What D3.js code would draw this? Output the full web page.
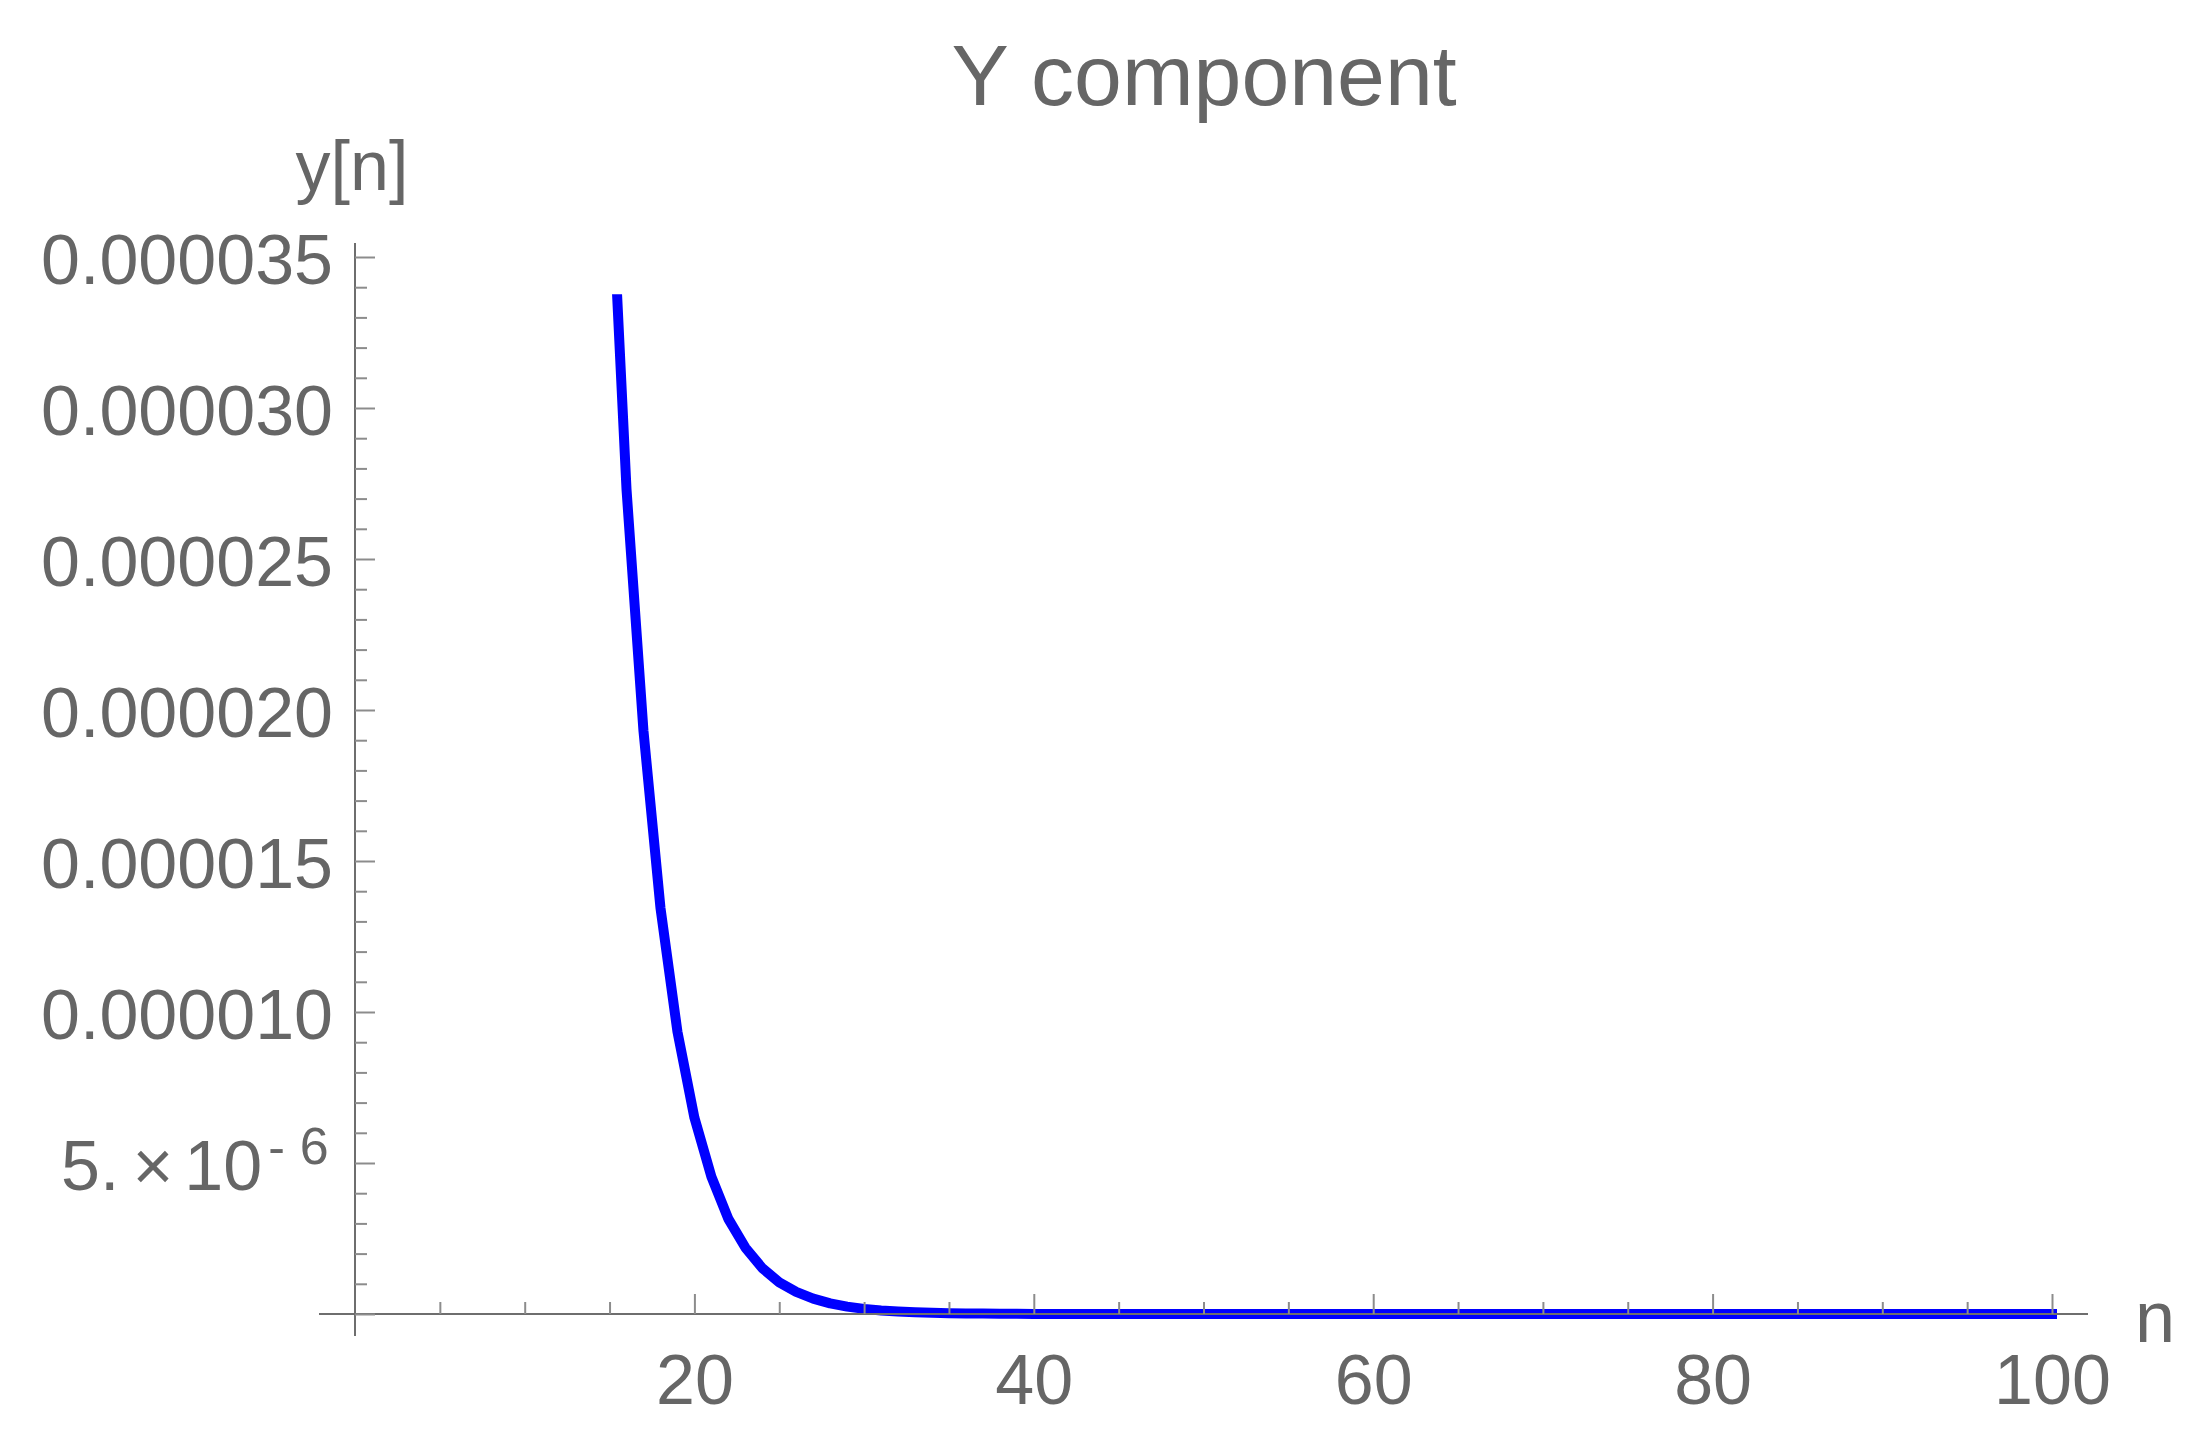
<!DOCTYPE html>
<html>
<head>
<meta charset="utf-8">
<script src="https://cdn.jsdelivr.net/npm/d3@7"></script>
<style>
  html, body { margin: 0; padding: 0; background: #ffffff; }
  svg { display: block; }
  text { font-family: "Liberation Sans", Arial, sans-serif; fill: #666666; }
</style>
</head>
<body>
<script>
// ---- data ----
const nValues = [15,16,17,18,19,20,21,22,23,24,25,26,27,28,29,30,31,32,33,34,35,36,37,38,39,40,
  41,42,43,44,45,46,47,48,49,50,51,52,53,54,55,56,57,58,59,60,61,62,63,64,65,66,67,68,69,70,
  71,72,73,74,75,76,77,78,79,80,81,82,83,84,85,86,87,88,89,90,91,92,93,94,95,96,97,98,99,100];
const yValues = [3.89e-5,2.73e-5,1.93e-5,1.345e-5,9.35e-6,6.5e-6,4.55e-6,3.15e-6,2.2e-6,1.52e-6,
  1.05e-6,7.3e-7,5.1e-7,3.5e-7,2.45e-7,1.7e-7,1.18e-7,8.2e-8,5.7e-8,3.9e-8,2.7e-8,1.9e-8,1.3e-8,9e-9,6e-9,4e-9,
  3e-9,2e-9,1.4e-9,1e-9,7e-10,5e-10,3e-10,2e-10,1e-10,0,0,0,0,0,0,0,0,0,0,0,
  0,0,0,0,0,0,0,0,0,0,0,0,0,0,0,0,0,0,0,0,0,0,0,0,0,0,0,0,0,0,0,0,0,0,0,0,0,0,0,0];
const xMajorTicks = [20,40,60,80,100];
const xMinorTicks = [5,10,15,25,30,35,45,50,55,65,70,75,85,90,95];
const yMajorTicks = [0,5e-6,1e-5,1.5e-5,2e-5,2.5e-5,3e-5,3.5e-5];
const yMinorTicks = [1e-6,2e-6,3e-6,4e-6,6e-6,7e-6,8e-6,9e-6,1.1e-5,1.2e-5,1.3e-5,1.4e-5,
  1.6e-5,1.7e-5,1.8e-5,1.9e-5,2.1e-5,2.2e-5,2.3e-5,2.4e-5,2.6e-5,2.7e-5,2.8e-5,2.9e-5,
  3.1e-5,3.2e-5,3.3e-5,3.4e-5];
const plotRangeTop = 3.377e-5;
const titleText = "Y component";
const xLabel = "n";
const yLabel = "y[n]";

// ---- layout ----
const W = 2205, H = 1446;
const svg = d3.select("body").append("svg").attr("width", W).attr("height", H);
svg.append("rect").attr("width", W).attr("height", H).attr("fill", "#ffffff");

const x = d3.scaleLinear().domain([0, 100]).range([355, 2052]);
const y = d3.scaleLinear().domain([0, 3.5e-5]).range([1314, 257]);

const axisColor = "#6e6e6e";
const tickColor = "#8c8c8c";

// clip for plot range
svg.append("clipPath").attr("id", "clip").append("rect")
  .attr("x", 0).attr("y", y(plotRangeTop)).attr("width", W).attr("height", H - y(plotRangeTop));

// curve (drawn beneath the axes)
const pts = nValues.map((n, i) => [n, yValues[i]]);
svg.append("path")
  .datum(pts)
  .attr("clip-path", "url(#clip)")
  .attr("fill", "none")
  .attr("stroke", "#0000ff")
  .attr("stroke-width", 10)
  .attr("stroke-linejoin", "round")
  .attr("stroke-linecap", "square")
  .attr("d", d3.line().x(d => x(d[0])).y(d => y(d[1])));

// axis lines
svg.append("line").attr("x1", 319).attr("x2", 2088).attr("y1", y(0)).attr("y2", y(0))
  .attr("stroke", axisColor).attr("stroke-width", 2);
svg.append("line").attr("x1", x(0)).attr("x2", x(0)).attr("y1", 243).attr("y2", 1336)
  .attr("stroke", axisColor).attr("stroke-width", 2);

// y axis ticks
const fmtY = d => d === 0 ? "" : d.toFixed(6);
const gyMinor = svg.append("g").attr("transform", `translate(${x(0)},0)`)
  .call(d3.axisLeft(y).tickValues(yMinorTicks).tickSize(-12).tickFormat(""));
const gy = svg.append("g").attr("transform", `translate(${x(0)},0)`)
  .call(d3.axisLeft(y).tickValues(yMajorTicks).tickSize(-20).tickPadding(22).tickFormat(fmtY));
[gy, gyMinor].forEach(g => {
  g.select(".domain").remove();
  g.selectAll(".tick line").attr("stroke", tickColor).attr("stroke-width", 2);
});
gy.selectAll(".tick text").attr("font-size", 70).attr("dy", 26)
  .style("font-family", '"Liberation Sans", Arial, sans-serif').attr("fill", "#666666");

// special label 5.×10^-6
gy.selectAll(".tick").filter(d => d === 5e-6).select("text").each(function() {
  const t = d3.select(this);
  t.text("").attr("text-anchor", "start").attr("x", -294);
  t.append("tspan").text("5.");
  t.append("tspan").attr("dx", 13).text("\u00d7");
  t.append("tspan").attr("dx", 11).text("10");
  t.append("tspan").attr("dx", 6).attr("dy", -26).attr("font-size", 50).text("-");
  t.append("tspan").attr("dx", 15).attr("font-size", 52).text("6");
});

// x axis ticks
const gxMinor = svg.append("g").attr("transform", `translate(0,${y(0)})`)
  .call(d3.axisBottom(x).tickValues(xMinorTicks).tickSize(-12).tickFormat(""));
const gx = svg.append("g").attr("transform", `translate(0,${y(0)})`)
  .call(d3.axisBottom(x).tickValues(xMajorTicks).tickSize(-20).tickFormat(d3.format("d")));
[gx, gxMinor].forEach(g => {
  g.select(".domain").remove();
  g.selectAll(".tick line").attr("stroke", tickColor).attr("stroke-width", 2);
});
gx.selectAll(".tick text").attr("font-size", 70).attr("y", 90).attr("dy", 0)
  .style("font-family", '"Liberation Sans", Arial, sans-serif').attr("fill", "#666666");

// labels
svg.append("text").attr("x", 1204).attr("y", 105).attr("text-anchor", "middle")
  .attr("font-size", 86).text(titleText);
svg.append("text").attr("x", 352).attr("y", 190).attr("text-anchor", "middle")
  .attr("font-size", 70).text(yLabel);
svg.append("text").attr("x", 2135).attr("y", 1342).attr("text-anchor", "start")
  .attr("font-size", 72).text(xLabel);
</script>
</body>
</html>
